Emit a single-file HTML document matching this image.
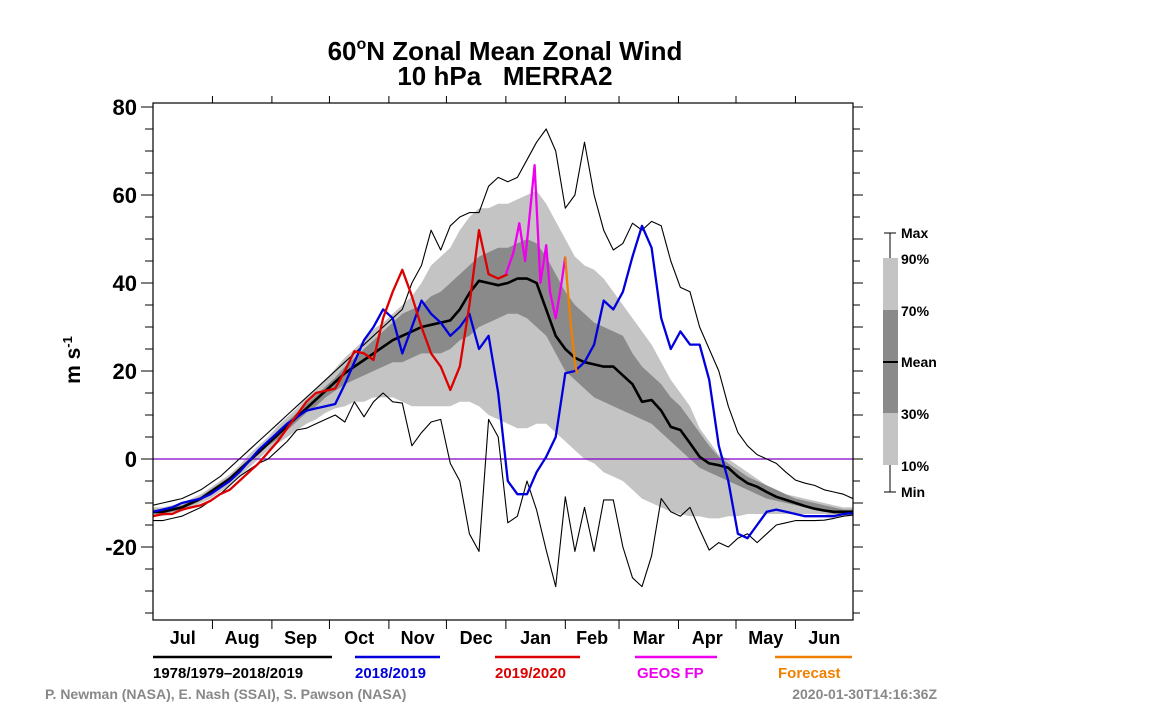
<!DOCTYPE html>
<html><head><meta charset="utf-8"><title>60N Zonal Mean Zonal Wind</title>
<style>
html,body{margin:0;padding:0;background:#fff;}
svg{display:block;font-family:"Liberation Sans",Arial,sans-serif;}
</style></head>
<body>
<svg id="chart" width="1152" height="726" viewBox="0 0 1152 726" xmlns="http://www.w3.org/2000/svg">
  <defs><clipPath id="plotclip"><rect x="153" y="103" width="700" height="517"/></clipPath></defs>
  <g>
    <text x="505" y="60" text-anchor="middle" font-size="26" font-weight="bold">60<tspan font-size="16" dy="-11">o</tspan><tspan dy="11">N Zonal Mean Zonal Wind</tspan></text>
    <text x="505" y="85" text-anchor="middle" font-size="26" font-weight="bold" xml:space="preserve">10 hPa   MERRA2</text>
  </g>
  <text transform="translate(80,360) rotate(-90)" text-anchor="middle" font-size="21" font-weight="bold">m s<tspan font-size="13" dy="-8">-1</tspan></text>
  <g id="bands" clip-path="url(#plotclip)"></g>
  <g id="lines" clip-path="url(#plotclip)"></g>
  <rect x="153" y="103" width="700" height="517" fill="none" stroke="#000" stroke-width="1.2"/>
  <g id="axes"></g>
  <g>
    <line x1="153" y1="657" x2="332" y2="657" stroke="#000" stroke-width="2.5"/>
    <text x="153" y="678" font-size="15" font-weight="bold" fill="#000">1978/1979–2018/2019</text>
    <line x1="355" y1="657" x2="440" y2="657" stroke="#0000dd" stroke-width="2.5"/>
    <text x="355" y="678" font-size="15" font-weight="bold" fill="#0000dd">2018/2019</text>
    <line x1="495" y1="657" x2="580" y2="657" stroke="#dd0000" stroke-width="2.5"/>
    <text x="495" y="678" font-size="15" font-weight="bold" fill="#dd0000">2019/2020</text>
    <line x1="635" y1="657" x2="717" y2="657" stroke="#ee00ee" stroke-width="2.5"/>
    <text x="637" y="678" font-size="15" font-weight="bold" fill="#ee00ee">GEOS FP</text>
    <line x1="775" y1="657" x2="852" y2="657" stroke="#f08000" stroke-width="2.5"/>
    <text x="778" y="678" font-size="15" font-weight="bold" fill="#f08000">Forecast</text>
  </g>
  <g>
    <line x1="890" y1="233" x2="890" y2="492" stroke="#000" stroke-width="1"/>
    <line x1="884" y1="233" x2="896" y2="233" stroke="#000"/>
    <line x1="884" y1="492" x2="896" y2="492" stroke="#000"/>
    <rect x="883" y="258" width="15" height="207" fill="#c4c4c4"/>
    <rect x="883" y="310" width="15" height="103" fill="#8a8a8a"/>
    <line x1="883" y1="362" x2="898" y2="362" stroke="#000" stroke-width="2"/>
    <g font-size="14" font-weight="bold">
      <text x="901" y="238">Max</text>
      <text x="901" y="264">90%</text>
      <text x="901" y="316">70%</text>
      <text x="901" y="367">Mean</text>
      <text x="901" y="419">30%</text>
      <text x="901" y="471">10%</text>
      <text x="901" y="497">Min</text>
    </g>
  </g>
  <text x="45" y="699" font-size="14" font-weight="bold" fill="#888">P. Newman (NASA), E. Nash (SSAI), S. Pawson (NASA)</text>
  <text x="937" y="699" text-anchor="end" font-size="14" font-weight="bold" fill="#888">2020-01-30T14:16:36Z</text>
</svg>
<script>
// Data (5-day steps starting Jul 1)
const stepDays = 5;
const meanVals = [-12,-12,-11.5,-11,-10,-9,-7.5,-6,-4.5,-2.5,
 -0.5,1.5,3.5,5.5,7.5,9.5,11.5,13.5,15.5,17.5,
 19.5,21,22.5,24,25.5,27,28,29,30,30.5,
 31,31.5,34,37.7,40.5,40,39.5,40,41,41,
 40,34,28,25,23,22,21.5,21,21,19,
 17,13,13.4,11,7.3,6.6,3.6,0.5,-1,-1.4,
 -2,-4,-5.5,-6.3,-7.5,-8.6,-9.3,-10,-10.7,-11.3,
 -11.7,-12,-12,-12];
const maxVals = [-10.5,-10,-9.5,-9,-8,-7,-5.5,-4,-2,0,
 2,4,6,8,10,12,14,16,18,20,
 22,24,26,28,30,32,34,40,44,52,
 47.5,53,55,56,56,62,64,63,64,68,
 72,75,70,57,60,72,60,52,47.5,49,
 53.6,52,54,53,45,39,38,30,25,20,
 12,6,3,1,0,-1,-3,-4.8,-5.5,-6,
 -7,-7.5,-8,-9];
const minVals = [-14,-14,-13.5,-13,-12,-11,-9.5,-8,-6,-4,
 -2.5,-1,0,2,4,6.6,7,8,9,10,
 8.4,13,9.6,13,15,13,12.7,3,6,8.4,
 9,-1,-5,-17,-21,9,5,-14.5,-13,-5,
 -11.6,-20.7,-29,-8.6,-21,-11,-21,-9.3,-9.3,-20,
 -27,-29,-22,-9,-12,-13,-11,-16,-20.7,-19,
 -20,-18,-17,-19,-17,-15,-14.5,-14,-14,-14,
 -13.9,-13.5,-13,-12.7];
const p90Vals = [-11,-11,-10.5,-10,-9,-8,-6.5,-5,-3.5,-1.5,
 1,3,5,7.5,9.5,11.5,14,16,18,20.5,
 23,25,27,29.5,31,33,35,37,40,44,
 46,48,52,55,57,57,58,58,59,60,
 61,58,54,50,46,44,43,41,38,35,
 32,29,26,22,18,15,12,7,4,1,
 0,-1.5,-3,-4.5,-6,-7,-8,-8.5,-9,-9.5,
 -10,-10.5,-11,-11];
const p70Vals = [-11.5,-11.5,-11,-10.5,-9.5,-8.5,-7,-5.5,-4,-2,
 0,2,4,6.5,8.5,10.5,12.5,14.5,16.5,18.5,
 21,23,25,27,29,31,33,34,35,37,
 38,40,42,44,46,47,48,48,49,50,
 49,46,42,38,35,33,31,30,29,28,
 24,21,19,17,14,12,9,6,3,0.5,
 -1,-2.5,-4,-5,-6,-7,-8,-9,-9.5,-10,
 -10.5,-11,-11.5,-11.5];
const p30Vals = [-12.5,-12.5,-12,-11.5,-10.5,-9.5,-8,-6.5,-5,-3,
 -1,1,3,4.5,6.5,8.5,10.5,12,14,15.5,
 17,18,19,20,21,22,22,23,24,24,
 24,25,27,28,30,31,32,33,33,32,
 30,28,24,20,18,16,14,13,12,11,
 10,9,8,6,4,2,0,-2,-3,-4,
 -5,-6,-7,-8,-9,-9.5,-10,-10.5,-11,-11.5,
 -12,-12.5,-12.5,-12.5];
const p10Vals = [-13,-13,-12.5,-12,-11,-10,-9,-7.5,-6,-4,
 -2,0,2,3.5,5,6.5,8,9,10.5,11.5,
 12,13,13,14,14,14,13,12,12,12,
 12,12,13,13,12,10,9,8,7,7,
 8,8,6,4,2,0,-1,-3,-4,-5,
 -7,-9,-10,-11,-12,-12.5,-13,-13,-13.5,-13.5,
 -13,-13,-12.5,-12.5,-12.5,-12.5,-12.5,-12.5,-12.5,-12.5,
 -12.5,-13,-13,-13];
const blueVals = [-12,-11.5,-11,-10,-9.5,-9,-8,-6.5,-5,-3,
 -0.5,2,4,6,8,9.5,11,11.5,12,12.5,
 17,22,27,30,34,32,24,30,36,33,
 31,28,30,33,25,28,15,-5,-8,-8,
 -3,0.5,5,19.5,20,22,26,36,34,38,
 46,53,48,32,25,29,26,26,18,3,
 -5,-17,-18,-15,-12,-11.5,-12,-12.5,-13,-13,
 -13,-13,-12.5,-12.3];
const redVals = [-13,-12.5,-12.5,-11.5,-11,-10.5,-9.5,-8,-7,-5,
 -3,-1,1.5,4,7,10,13,15,15.5,16,
 20,24.5,24,22.5,32,38,43,37,30,24,
 21,15.7,21,35,52,42,41,42];
const geosDays = [184,188,191,194,197,199,202,205,207,210,213,215];
const geosVals = [42,47,53.6,45,58,66.8,40,48.6,38,32,40,46];
const fcDays = [215,216,218,220,221];
const fcVals = [46,40,30,22,19.5];
const monthLabels = ["Jul","Aug","Sep","Oct","Nov","Dec","Jan","Feb","Mar","Apr","May","Jun"];
const monthLengths = [31,31,30,31,30,31,31,28,31,30,31,30];
const yTickVals = [-20,0,20,40,60,80];

const X0=153, X1=853, Y0=459, PX=4.4, NDAYS=365;
function xd(d){return X0 + d*(X1-X0)/NDAYS;}
function yv(v){return Y0 - PX*v;}
const NS="http://www.w3.org/2000/svg";
function mk(tag, attrs, parent){const e=document.createElementNS(NS,tag);for(const k in attrs)e.setAttribute(k,attrs[k]);parent.appendChild(e);return e;}
function ptsStep(vals){return vals.map((v,i)=>xd(Math.min(i*stepDays,NDAYS)).toFixed(1)+","+yv(v).toFixed(1));}
function ptsDays(days,vals){return vals.map((v,i)=>xd(days[i]).toFixed(1)+","+yv(v).toFixed(1));}

const bands=document.getElementById('bands');
let b1=mk('polygon',{points:ptsStep(p90Vals).concat(ptsStep(p10Vals).reverse()).join(' '),fill:'#c4c4c4'},bands);


let b2=mk('polygon',{points:ptsStep(p70Vals).concat(ptsStep(p30Vals).reverse()).join(' '),fill:'#8a8a8a'},bands);



const lines=document.getElementById('lines');
let zl=mk('line',{x1:X0,x2:X1,y1:yv(0),y2:yv(0),stroke:'#8000c8','stroke-width':1.3},lines);


function pl(points,color,w,name){const p=mk('polyline',{points:points.join(' '),fill:'none',stroke:color,'stroke-width':w,'stroke-linejoin':'round'},lines);return p;}
let lmax=pl(ptsStep(maxVals),'#000',1.1);


let lmin=pl(ptsStep(minVals),'#000',1.1);


let lmean=pl(ptsStep(meanVals),'#000',2.6);


let lblue=pl(ptsStep(blueVals),'#0000dd',2.3);


let lred=pl(ptsStep(redVals),'#dd0000',2.3);


let lgeos=pl(ptsDays(geosDays,geosVals),'#ee00ee',2.3);


let lfc=pl(ptsDays(fcDays,fcVals),'#f08000',2.3);



const axes=document.getElementById('axes');
// y ticks every 5 units
for(let v=-35; v<=80; v+=5){
  const y=yv(v), major=(v%20===0);
  let t=mk('line',{x1:major?141:145,x2:X0,y1:y,y2:y,stroke:'#000','stroke-width':1},axes);
  
  
  let r=mk('line',{x1:X1,x2:X1+(v%10===0?10:7),y1:y,y2:y,stroke:'#000','stroke-width':1},axes);
  
  
}
yTickVals.forEach(v=>{
  let t=mk('text',{x:137,y:yv(v)+8,'text-anchor':'end','font-size':22,'font-weight':'bold'},axes);
  t.textContent=String(v);
  
  
});
let cum=0;
monthLabels.forEach((m,i)=>{
  const d0=cum, d1=cum+monthLengths[i];
  if(i>0){
    let tb=mk('line',{x1:xd(d0),x2:xd(d0),y1:620,y2:629,stroke:'#000'},axes);
    
    
    let tt=mk('line',{x1:xd(d0),x2:xd(d0),y1:96,y2:103,stroke:'#000'},axes);
    
    
  }
  let t=mk('text',{x:(xd(d0)+xd(d1))/2,y:644,'text-anchor':'middle','font-size':18,'font-weight':'bold'},axes);
  t.textContent=m;
  
  
  cum=d1;
});
</script>
</body></html>
